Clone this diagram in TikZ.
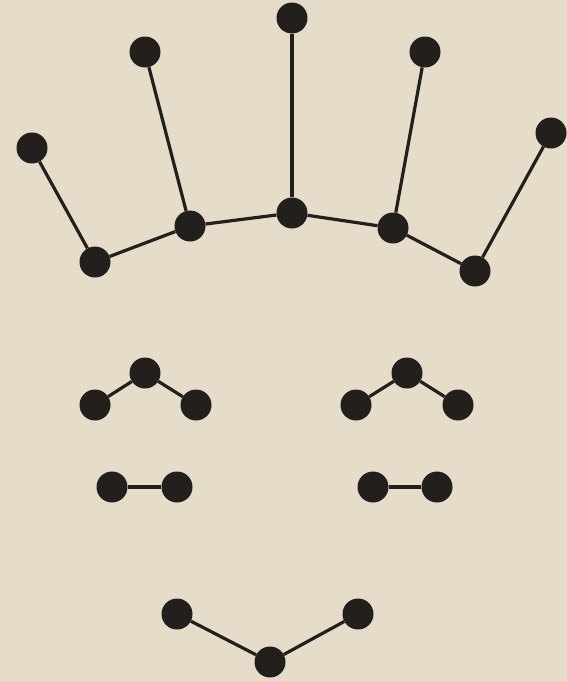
\documentclass[tikz,border=0pt]{standalone}
\definecolor{bg}{RGB}{229,220,202}
\definecolor{ink}{RGB}{34,31,29}
\begin{document}
\begin{tikzpicture}[x=1pt,y=-1pt,
  dot/.style={circle,fill=ink,minimum size=31pt,inner sep=0pt},
  link/.style={draw=ink,line width=3.2pt}]
\fill[bg] (0,0) rectangle (567,681);
\useasboundingbox (0,0) rectangle (567,681);
% top fan
\node[dot] (c) at (292,213) {};
\node[dot] (ct) at (292,18) {};
\node[dot] (l1) at (190,226) {};
\node[dot] (l1t) at (145,52) {};
\node[dot] (l2) at (95,262) {};
\node[dot] (l2t) at (32,148) {};
\node[dot] (r1) at (393,228) {};
\node[dot] (r1t) at (425,52) {};
\node[dot] (r2) at (475,271) {};
\node[dot] (r2t) at (551,133) {};
\draw[link] (l2) -- (l1) -- (c) -- (r1) -- (r2);
\draw[link] (c) -- (ct);
\draw[link] (l1) -- (l1t);
\draw[link] (l2) -- (l2t);
\draw[link] (r1) -- (r1t);
\draw[link] (r2) -- (r2t);
% left triangle
\node[dot] (la) at (95,405) {};
\node[dot] (lb) at (145,373) {};
\node[dot] (lc) at (196,405) {};
\draw[link] (la) -- (lb) -- (lc);
% right triangle
\node[dot] (ra) at (356,405) {};
\node[dot] (rb) at (407,373) {};
\node[dot] (rc) at (458,405) {};
\draw[link] (ra) -- (rb) -- (rc);
% pairs
\node[dot] (pa) at (112,487) {};
\node[dot] (pb) at (177,487) {};
\draw[link] (pa) -- (pb);
\node[dot] (qa) at (373,487) {};
\node[dot] (qb) at (437,487) {};
\draw[link] (qa) -- (qb);
% bottom V
\node[dot] (va) at (177,614) {};
\node[dot] (vb) at (270,662) {};
\node[dot] (vc) at (358,614) {};
\draw[link] (va) -- (vb) -- (vc);
\end{tikzpicture}
\end{document}
